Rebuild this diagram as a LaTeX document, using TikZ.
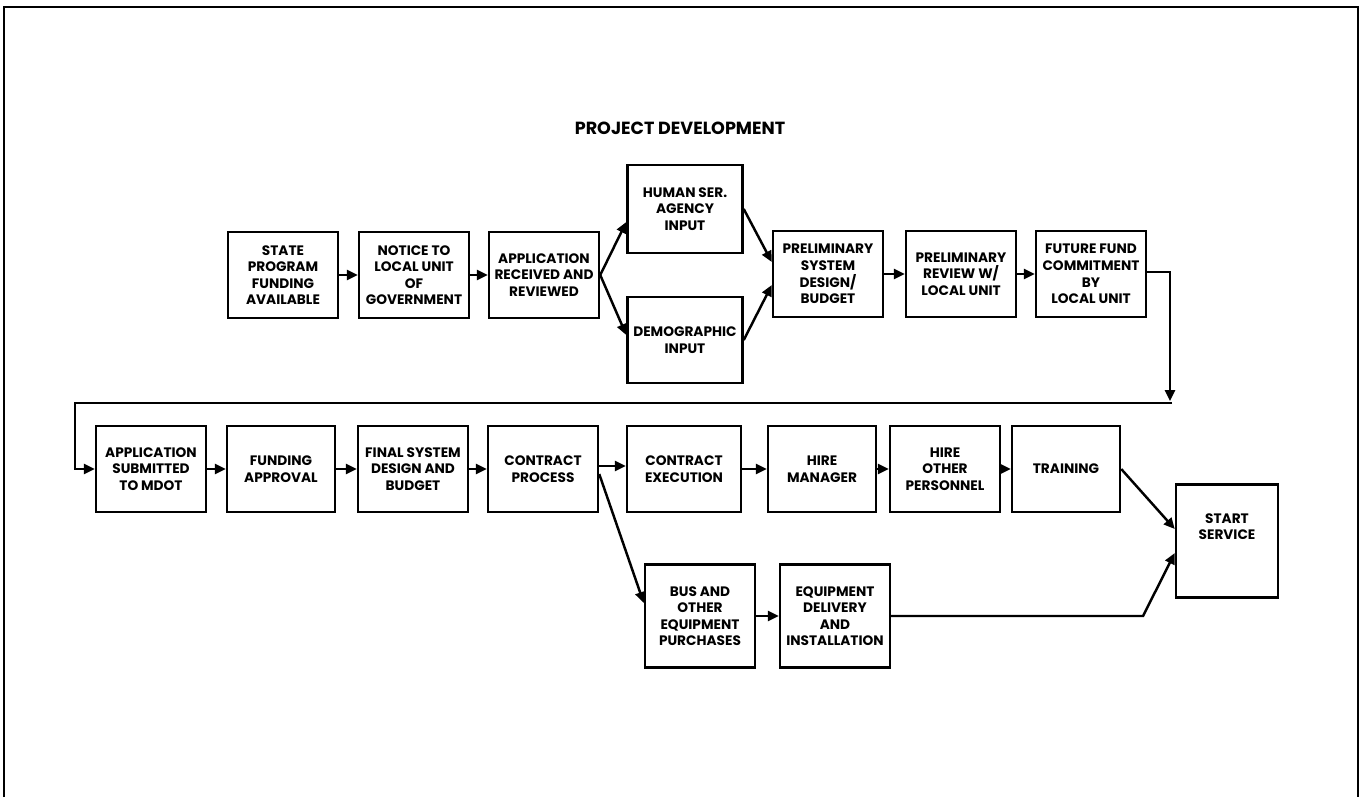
\documentclass[tikz,border=0pt]{standalone}
\usepackage{fontspec}
\newfontfamily\boxfont{Poppins}
\usepackage{tikz}
\usetikzlibrary{positioning, arrows.meta, calc}

\begin{document}
\begin{tikzpicture}[
    x=0.2mm, y=-0.2mm,
    stepbox/.style={
        draw,
        line width=1.4pt,
        minimum width=2.2cm,
        minimum height=1.72cm,
        align=center,
        inner sep=1pt,
        font=\boxfont\bfseries\fontsize{7.8}{9.4}\selectfont
    },
    arr/.style={-{Triangle[length=2.2mm, width=2mm]}, line width=1.4pt}
]
\useasboundingbox (0,0) rectangle (1364,797);

% frame
\draw[line width=1.3pt] (4,797) -- (4,7) -- (1358,7) -- (1358,797);

\node[font=\boxfont\bfseries\fontsize{10}{12}\selectfont] (title) at (680,128) {PROJECT DEVELOPMENT};

% first row
\node[stepbox] (state)  at (283,275) {STATE\\PROGRAM\\FUNDING\\AVAILABLE};
\node[stepbox] (notice) at (414,275) {NOTICE TO\\LOCAL UNIT\\OF\\GOVERNMENT};
\node[stepbox] (appl)   at (544,275) {APPLICATION\\RECEIVED AND\\REVIEWED};
\node[stepbox, minimum width=2.3cm, minimum height=1.76cm] (human) at (685,209) {HUMAN SER.\\AGENCY\\INPUT};
\node[stepbox, minimum width=2.3cm] (demo)  at (685,340) {DEMOGRAPHIC\\INPUT};
\node[stepbox] (psys)   at (828,274) {PRELIMINARY\\SYSTEM\\DESIGN/\\BUDGET};
\node[stepbox] (prev)   at (961,274) {PRELIMINARY\\REVIEW W/\\LOCAL UNIT};
\node[stepbox] (fut)    at (1091,274) {FUTURE FUND\\COMMITMENT\\BY\\LOCAL UNIT};

% second row
\node[stepbox] (appsub) at (151,469) {APPLICATION\\SUBMITTED\\TO MDOT};
\node[stepbox, minimum width=2.16cm] (fund) at (281,469) {FUNDING\\APPROVAL};
\node[stepbox] (final)  at (413,469) {FINAL SYSTEM\\DESIGN AND\\BUDGET};
\node[stepbox] (cproc)  at (543,469) {CONTRACT\\PROCESS};
\node[stepbox, minimum width=2.28cm] (cexec) at (684,469) {CONTRACT\\EXECUTION};
\node[stepbox, minimum width=2.16cm] (hman) at (822,469) {HIRE\\MANAGER};
\node[stepbox] (hoth)   at (945,469) {HIRE\\OTHER\\PERSONNEL};
\node[stepbox, minimum width=2.16cm] (train) at (1066,469) {TRAINING};
\node[stepbox, minimum width=2.04cm, minimum height=2.26cm] (start) at (1227,541) {START\\SERVICE\\[7pt]};
\node[stepbox, minimum height=2.06cm] (bus)   at (700,616) {BUS AND\\OTHER\\EQUIPMENT\\PURCHASES};
\node[stepbox, minimum height=2.06cm] (equip) at (835,616) {EQUIPMENT\\DELIVERY\\AND\\INSTALLATION};

\coordinate (turn1) at (1170,272);
\coordinate (drop)  at (1170,401);
\coordinate (back1) at (1172,403);
\coordinate (back2) at (75,403);
\coordinate (back3) at (75,469);
\coordinate (bend)  at (1143,616);

\draw[arr] (state) -- (notice);
\draw[arr] (notice) -- (appl);
\draw[arr] (appl.east) -- ([yshift=-2.6mm]human.west);
\draw[arr] (appl.east) -- ([yshift=1mm]demo.west);
\draw[arr] (human.east) -- ([yshift=2.4mm]psys.west);
\draw[arr] (demo.east) -- ([yshift=-2.2mm]psys.west);
\draw[arr] (psys) -- (prev);
\draw[arr] (prev) -- (fut);
\draw[arr] ([yshift=0.4mm]fut.east) -- (turn1) -- (drop);
\draw[arr] (back1) -- (back2) -- (back3) -- (appsub.west);

\draw[arr] (appsub) -- (fund);
\draw[arr] (fund) -- (final);
\draw[arr] (final) -- (cproc);
\draw[arr] ([yshift=0.6mm]cproc.east) -- ([yshift=0.6mm]cexec.west);
\draw[arr] ([yshift=-1mm]cproc.east) -- ([yshift=2.6mm]bus.west);
\draw[arr] (cexec) -- (hman);
\draw[arr] (hman) -- (hoth);
\draw[arr] (hoth) -- (train);
\draw[arr] (train.east) -- ([yshift=2.4mm]start.west);
\draw[arr] (bus) -- (equip);
\draw[arr] (equip.east) -- (bend) -- ([yshift=-2.4mm]start.west);

\end{tikzpicture}
\end{document}
